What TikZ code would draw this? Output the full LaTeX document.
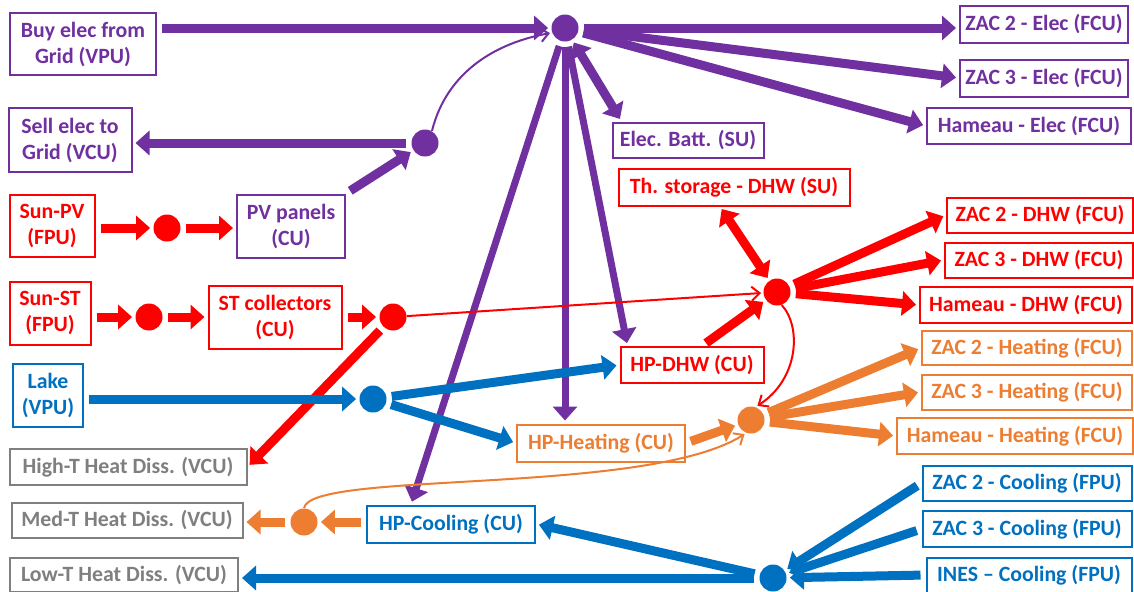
\documentclass[tikz,border=0pt]{standalone}
\usepackage{fontspec}
\setmainfont{Carlito}
\usetikzlibrary{arrows.meta}
\definecolor{elec}{HTML}{7030A0}
\definecolor{dhw}{HTML}{FF0000}
\definecolor{cool}{HTML}{0070C0}
\definecolor{heat}{HTML}{ED7D31}
\definecolor{diss}{HTML}{7F7F7F}

\begin{document}
\begin{tikzpicture}[x=0.5pt,y=-0.5pt,
  unit/.style={draw=#1,text=#1,line width=1pt,fill=white,align=center,inner sep=1pt,
    font=\fontsize{10.9}{13}\selectfont\bfseries},
  hub/.style={circle,fill=#1,inner sep=0pt,minimum size=13.5pt},
  flow/.style={line width=4.5pt,-{Triangle[length=7pt,width=12pt]},
    shorten <=2.5pt,shorten >=1.5pt},
  bothflow/.style={line width=4.5pt,
    {Triangle[length=7pt,width=12pt]}-{Triangle[length=7pt,width=12pt]},
    shorten <=1.5pt,shorten >=1.5pt},
  flowthin/.style={line width=1pt,-{Straight Barb[length=4pt,width=7pt]},
    shorten >=1pt}]

  \useasboundingbox (0,0) rectangle (1134,591);

  % units
  \node[unit=elec,minimum width=73pt,minimum height=31pt] (buy) at (83,44) {Buy elec from\\Grid (VPU)};
  \node[unit=elec,minimum width=61.5pt,minimum height=32pt] (sell) at (70,140) {Sell elec to\\Grid (VCU)};
  \node[unit=elec,minimum width=84pt,minimum height=18.5pt] (zac2e) at (1044,24) {ZAC 2 - Elec (FCU)};
  \node[unit=elec,minimum width=84pt,minimum height=18.5pt] (zac3e) at (1044,78) {ZAC 3 - Elec (FCU)};
  \node[unit=elec,minimum width=102pt,minimum height=18pt] (hame) at (1029,126) {Hameau - Elec (FCU)};
  \node[unit=elec,minimum width=75.5pt,minimum height=17.5pt] (batt) at (688,140) {Elec. Batt. (SU)};
  \node[unit=elec,minimum width=54pt,minimum height=31.5pt] (pv) at (291,226) {PV panels\\(CU)};

  \node[unit=dhw,minimum width=115.5pt,minimum height=18.5pt] (ths) at (734,187) {Th. storage - DHW (SU)};
  \node[unit=dhw,minimum width=42.5pt,minimum height=31pt] (sunpv) at (52,226) {Sun-PV\\(FPU)};
  \node[unit=dhw,minimum width=40.5pt,minimum height=31.5pt] (sunst) at (50,313) {Sun-ST\\(FPU)};
  \node[unit=dhw,minimum width=66.5pt,minimum height=31.5pt] (stc) at (275,317) {ST collectors\\(CU)};
  \node[unit=dhw,minimum width=93pt,minimum height=17.5pt] (zac2d) at (1040,215) {ZAC 2 - DHW (FCU)};
  \node[unit=dhw,minimum width=94pt,minimum height=17.5pt] (zac3d) at (1039,260) {ZAC 3 - DHW (FCU)};
  \node[unit=dhw,minimum width=106pt,minimum height=18pt] (hamd) at (1026,305) {Hameau - DHW (FCU)};
  \node[unit=dhw,minimum width=71.5pt,minimum height=18pt] (hpdhw) at (692,365) {HP-DHW (CU)};

  \node[unit=heat,minimum width=105pt,minimum height=17pt] (zac2h) at (1027,348) {ZAC 2 - Heating (FCU)};
  \node[unit=heat,minimum width=105pt,minimum height=17.5pt] (zac3h) at (1027,392) {ZAC 3 - Heating (FCU)};
  \node[unit=heat,minimum width=118pt,minimum height=18pt] (hamh) at (1015,436) {Hameau - Heating (FCU)};
  \node[unit=heat,minimum width=84pt,minimum height=18.5pt] (hph) at (601,443) {HP-Heating (CU)};

  \node[unit=cool,minimum width=104.5pt,minimum height=17.5pt] (zac2c) at (1027,483) {ZAC 2 - Cooling (FPU)};
  \node[unit=cool,minimum width=104.5pt,minimum height=18pt] (zac3c) at (1027,529) {ZAC 3 - Cooling (FPU)};
  \node[unit=cool,minimum width=102.5pt,minimum height=17.5pt] (ines) at (1029,575) {INES -- Cooling (FPU)};
  \node[unit=cool,minimum width=84pt,minimum height=18.5pt] (hpc) at (451,524) {HP-Cooling (CU)};
  \node[unit=cool,minimum width=35pt,minimum height=31.5pt] (lake) at (48,395) {Lake\\(VPU)};

  \node[unit=diss,minimum width=118.5pt,minimum height=18pt] (hight) at (128,467) {High-T Heat Diss. (VCU)};
  \node[unit=diss,minimum width=115.5pt,minimum height=17.5pt] (medt) at (127,520) {Med-T Heat Diss. (VCU)};
  \node[unit=diss,minimum width=114pt,minimum height=17pt] (lowt) at (124,575) {Low-T Heat Diss. (VCU)};

  % hubs
  \node[hub=elec] (hubE) at (565,28) {};
  \node[hub=elec] (pdot) at (425,143) {};
  \node[hub=dhw] (rd1) at (167,228) {};
  \node[hub=dhw] (rd2) at (149,317) {};
  \node[hub=dhw] (rd3) at (393,317) {};
  \node[hub=dhw] (hubD) at (777,292) {};
  \node[hub=cool] (bdot) at (373,399) {};
  \node[hub=cool] (bhub) at (773,578) {};
  \node[hub=heat] (hubH) at (751,420) {};
  \node[hub=heat] (odot) at (304,522) {};

  % electricity
  \path[flow,elec]
   (buy.east |- hubE) edge (hubE)
   (hubE) edge (hubE -| zac2e.west)
   (hubE) edge (zac3e.west)
   (hubE) edge (hame.west)
   (pdot) edge (pdot -| sell.east)
   (pv.north east) edge (pdot);
  \path[flow,elec,line width=3.5pt]
   (hubE) edge ([xshift=-20pt]hpc.north)
   (hubE) edge (hubE |- hph.north)
   (hubE) edge ([xshift=4pt]hpdhw.north west);
  \draw[bothflow,elec] (hubE) -- ([xshift=5pt]batt.north west);
  \draw[flowthin,elec] (pdot.60) .. controls +(15,-60) and +(-55,10) .. (hubE.200);

  % DHW
  \path[flow,dhw]
   (sunpv.east |- rd1) edge (rd1)
   (rd1) edge (rd1 -| pv.west)
   (sunst.east |- rd2) edge (rd2)
   (rd2) edge (rd2 -| stc.west)
   (stc.east |- rd3) edge (rd3)
   (rd3) edge (hight.east)
   ([xshift=5pt]hpdhw.north) edge (hubD)
   (hubD) edge (zac2d.west)
   (hubD) edge (zac3d.west)
   (hubD) edge (hamd.west);
  \draw[bothflow,dhw] ([xshift=-7pt]ths.south) -- (hubD);
  \draw[flowthin,dhw] (rd3) -- (hubD);
  \draw[flowthin,dhw] (hubD.-70) .. controls +(20,22) and +(43,-28) .. (hubH.70);

  % cooling
  \path[flow,cool]
   (lake.east |- bdot) edge (bdot)
   (bdot) edge (hpdhw.west)
   (bdot) edge (hph.west)
   (zac2c.west) edge (bhub)
   (zac3c.west) edge (bhub)
   (ines.west) edge (bhub)
   (bhub) edge (hpc.east)
   (bhub) edge (bhub -| lowt.east);

  % heating
  \path[flow,heat]
   (hph.east) edge (hubH)
   (hubH) edge (zac2h.west)
   (hubH) edge (zac3h.west)
   (hubH) edge (hamh.west)
   (hpc.west |- odot) edge (odot)
   (odot) edge (odot -| medt.east);
  \draw[flowthin,heat] (odot.north) .. controls +(6,-38) and +(-100,63) .. (hubH.250);
\end{tikzpicture}
\end{document}
